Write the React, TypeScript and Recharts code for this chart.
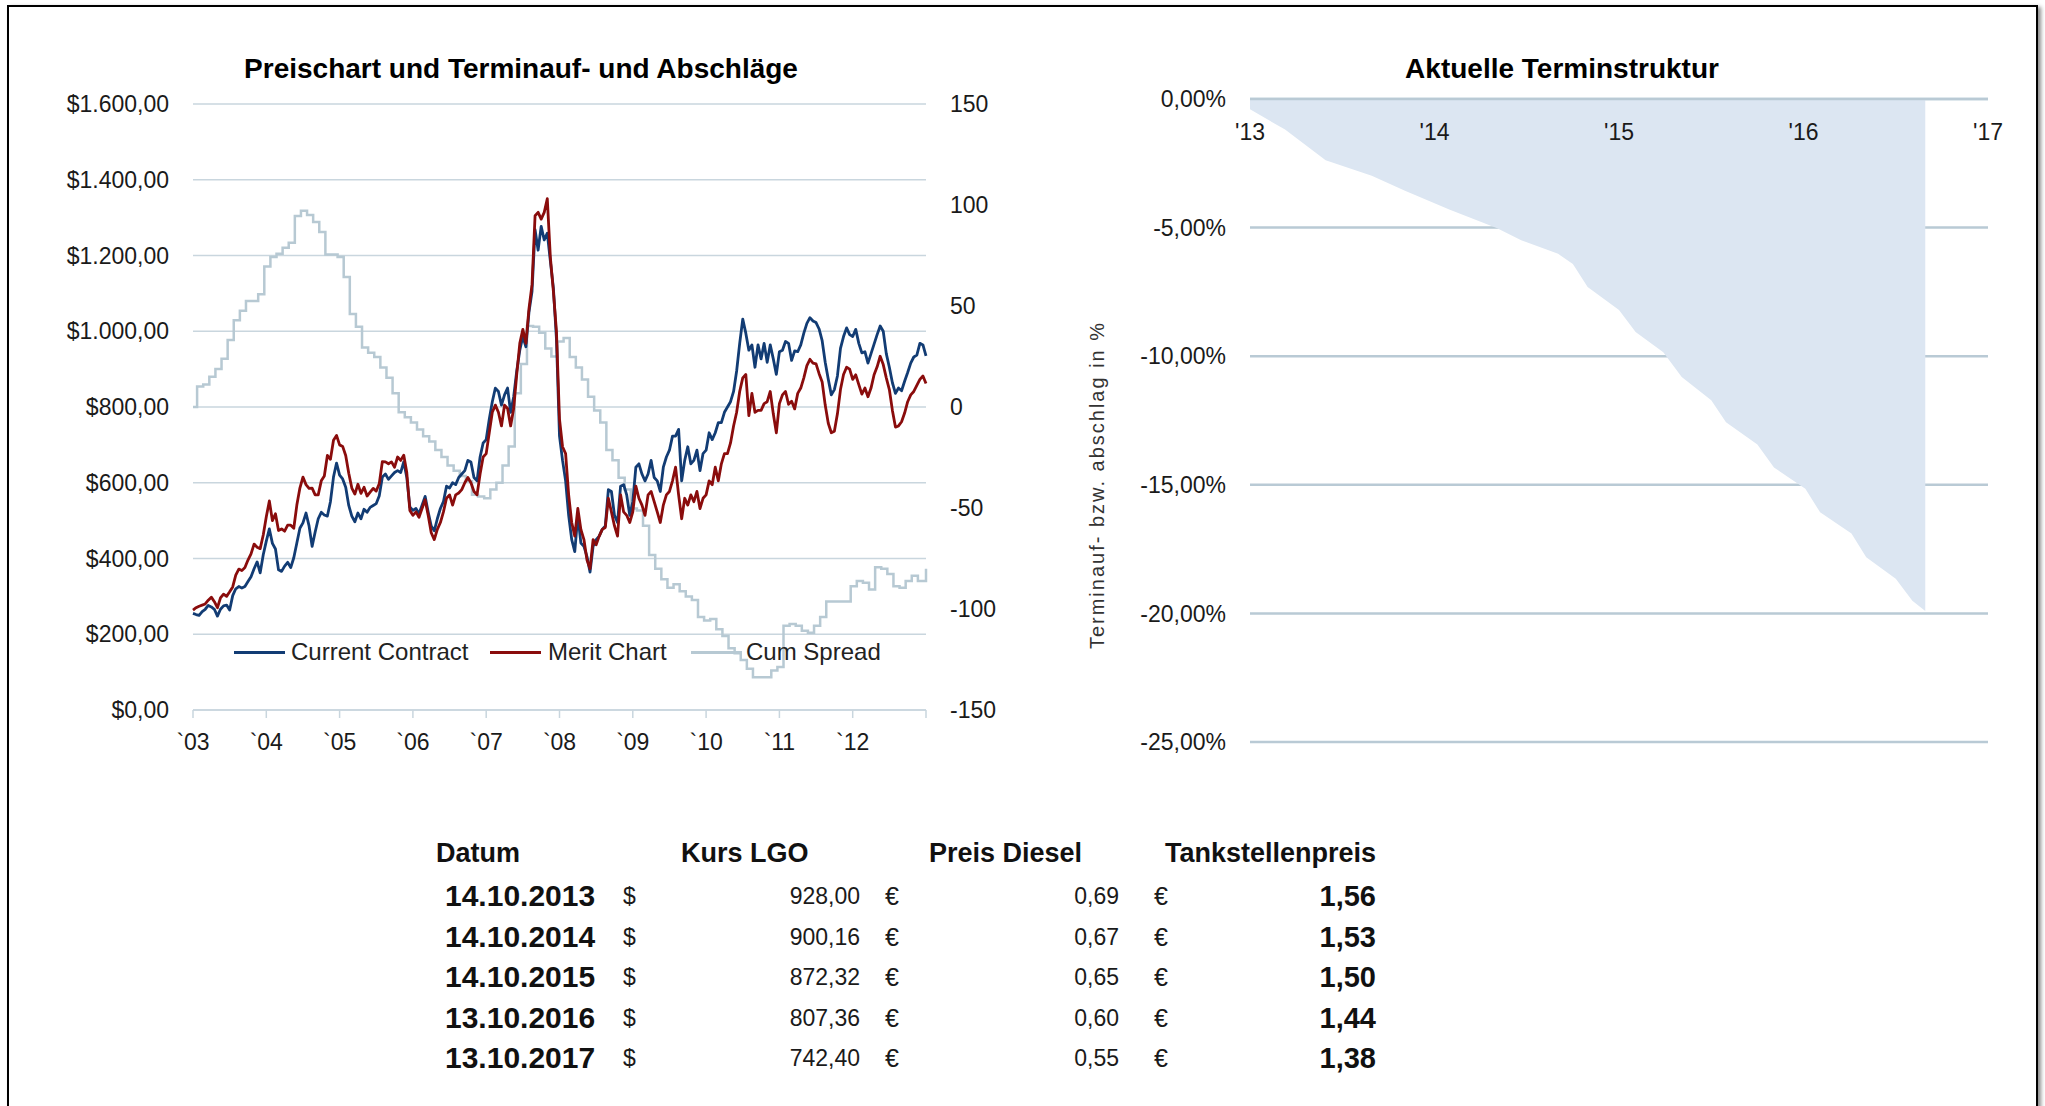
import { LineChart, Line, AreaChart, Area, XAxis, YAxis, CartesianGrid, ReferenceLine } from 'recharts';

// Preischart: half-monthly readings, Jan 2003 .. Jan 2013
const currentContract = [
  255, 252, 250, 260, 266, 276, 272, 266, 248, 266, 275, 277, 264, 302, 320, 326, 322, 326, 339, 352,
  373, 391, 362, 410, 446, 478, 440, 425, 370, 366, 380, 390, 376, 402, 441, 480, 494, 520, 486, 432,
  470, 505, 522, 515, 512, 550, 615, 652, 620, 610, 588, 540, 512, 497, 520, 505, 530, 522, 535, 540,
  545, 566, 615, 623, 609, 618, 627, 632, 627, 655, 614, 536, 527, 532, 518, 541, 564, 523, 486, 473,
  505, 532, 550, 591, 586, 600, 595, 614, 623, 632, 659, 655, 614, 605, 668, 705, 714, 768, 814, 850,
  841, 805, 832, 850, 786, 827, 895, 950, 986, 959, 1050, 1105, 1268, 1214, 1277, 1241, 1259, 1186, 1114, 980,
  723, 659, 605, 514, 450, 418, 514, 441, 432, 405, 364, 432, 450, 459, 477, 486, 582, 577, 514, 495,
  591, 595, 568, 514, 550, 641, 650, 623, 605, 623, 659, 614, 605, 577, 641, 668, 686, 723, 723, 741,
  605, 659, 695, 650, 659, 686, 632, 677, 686, 732, 714, 732, 759, 759, 786, 800, 814, 841, 895, 968,
  1032, 995, 950, 964, 905, 964, 927, 968, 918, 964, 927, 886, 946, 950, 973, 968, 923, 948, 946, 964,
  995, 1021, 1036, 1027, 1023, 1006, 975, 918, 873, 832, 846, 882, 955, 986, 1009, 991, 986, 1005, 968, 943,
  946, 916, 941, 966, 991, 1014, 1000, 941, 905, 864, 836, 850, 843, 868, 891, 916, 932, 937, 968, 964,
  935,
];

const meritChart = [
  264, 270, 274, 277, 280, 290, 298, 286, 270, 296, 306, 300, 312, 325, 356, 372, 368, 376, 396, 412,
  438, 430, 426, 462, 510, 552, 500, 518, 474, 478, 472, 488, 488, 480, 541, 586, 615, 595, 585, 586,
  568, 568, 605, 618, 672, 662, 712, 725, 700, 696, 672, 625, 586, 570, 596, 572, 588, 565, 575, 585,
  578, 598, 656, 655, 650, 655, 641, 668, 659, 673, 627, 527, 514, 523, 509, 532, 555, 514, 468, 450,
  477, 495, 523, 559, 568, 541, 568, 573, 582, 600, 614, 600, 577, 568, 623, 668, 677, 732, 786, 805,
  786, 750, 805, 796, 750, 796, 886, 968, 1005, 968, 1059, 1123, 1305, 1314, 1296, 1314, 1350, 1196, 1105, 1000,
  768, 695, 677, 568, 495, 459, 532, 477, 450, 396, 373, 450, 436, 459, 477, 482, 559, 523, 486, 459,
  568, 523, 514, 495, 523, 591, 559, 541, 514, 568, 577, 550, 523, 495, 541, 568, 577, 605, 641, 568,
  505, 559, 541, 568, 550, 577, 532, 559, 568, 605, 595, 641, 605, 650, 677, 677, 705, 750, 786, 841,
  877, 886, 777, 836, 786, 791, 791, 809, 814, 841, 782, 732, 809, 832, 841, 807, 815, 795, 836, 850,
  877, 909, 926, 916, 914, 888, 866, 805, 757, 732, 736, 782, 846, 886, 905, 900, 873, 885, 859, 834,
  850, 827, 850, 885, 906, 934, 912, 877, 846, 791, 747, 750, 761, 784, 814, 832, 841, 857, 873, 882,
  862,
];

// monthly steps of the cumulated spread (right axis)
const cumSpread = [
  0, 10.2, 11.1, 15.0, 18.8, 23.9, 33.2, 43.0, 47.6, 52.5,
  52.5, 55.8, 69.6, 74.2, 75.9, 78.8, 81.3, 94.6, 97.2, 95.1,
  91.6, 86.6, 75.5, 75.5, 74.2, 64.3, 46.0, 39.7, 29.5, 26.8,
  24.7, 19.6, 14.5, 6.8, -2.6, -5.1, -7.7, -11.1, -14.5, -17.1,
  -21.3, -24.7, -29.0, -31.5, -34.1, -36.7, -43.5, -44.3, -45.2, -40.9,
  -37.5, -29.0, -19.6, 6.8, 21.3, 40.1, 39.7, 36.7, 29.0, 25.0,
  32.4, 34.1, 24.7, 19.6, 13.6, 5.1, -1.7, -7.7, -21.3, -26.4,
  -35.0, -40.9, -50.3, -51.2, -58.8, -73.3, -80.1, -85.3, -89.5, -87.8,
  -91.2, -93.8, -95.5, -104.0, -105.7, -104.9, -110.0, -113.4, -119.4, -121.9,
  -125.3, -129.6, -133.8, -133.8, -133.8, -130.4, -128.7, -108.3, -107.4, -108.3,
  -110.8, -111.7, -108.3, -104.0, -96.3, -96.3, -96.3, -96.3, -88.7, -86.1,
  -87.0, -90.4, -79.3, -80.1, -82.7, -88.7, -89.5, -86.1, -83.5, -86.1,
  -86.1,
];
const cumSpreadLast = -80.1;

const yearTicks = [2003, 2004, 2005, 2006, 2007, 2008, 2009, 2010, 2011, 2012, 2013];
const priceTicks = [0, 200, 400, 600, 800, 1000, 1200, 1400, 1600];
const spreadTicks = [-150, -100, -50, 0, 50, 100, 150];

// Terminstruktur
const termDates = [
  2013.0, 2013.19, 2013.41, 2013.66, 2013.84, 2014.08, 2014.34, 2014.47, 2014.67, 2014.75,
  2014.83, 2015.0, 2015.09, 2015.24, 2015.34, 2015.5, 2015.58, 2015.75, 2015.84, 2016.01,
  2016.09, 2016.26, 2016.34, 2016.5, 2016.59, 2016.66,
];
const termValues = [
  -0.4, -1.19, -2.38, -2.98, -3.57, -4.3, -5.03, -5.49, -6.02, -6.42,
  -7.31, -8.2, -9.06, -9.85, -10.81, -11.71, -12.57, -13.43, -14.33, -15.15,
  -16.07, -16.89, -17.82, -18.65, -19.51, -19.91,
];
const termYearTicks = [2013, 2014, 2015, 2016, 2017];
const termPctTicks = [-25, -20, -15, -10, -5, 0];

// Tabelle
const tableDates = ['14.10.2013', '14.10.2014', '14.10.2015', '13.10.2016', '13.10.2017'];
const kursLgo = [928.0, 900.16, 872.32, 807.36, 742.4];
const preisDiesel = [0.69, 0.67, 0.65, 0.6, 0.55];
const tankstellenpreis = [1.56, 1.53, 1.5, 1.44, 1.38];

const FONT = "'Liberation Sans', Arial, Helvetica, sans-serif";
const TEXT = '#1a1a1a';
const BLUE = '#123c74';
const RED = '#8a0c0c';
const CUM = '#b7c9d3';
const GRID_L = '#c9d6de';
const GRID_R = '#b9cad5';
const AREA = '#dce6f2';

const de = (v: number) => v.toFixed(2).replace('.', ',');
const usd = (v: number) => `$${v.toLocaleString('de-DE', { minimumFractionDigits: 2, maximumFractionDigits: 2 })}`;

function PriceChart() {
  const priceData = currentContract.map((v, i) => ({ t: 2003 + i / 24, current: v, merit: meritChart[i] }));
  const cumData = [
    { t: 2003, cum: cumSpread[0] },
    ...cumSpread.slice(1).map((v, k) => ({ t: 2003.056 + k / 12, cum: v })),
    { t: 2013, cum: cumSpreadLast },
  ];
  const tickStyle = { fill: TEXT, fontSize: 23, fontFamily: FONT };

  return (
    <LineChart width={1000} height={780} margin={{ top: 104, right: 0, bottom: 0, left: 0 }}>
      <CartesianGrid yAxisId="price" vertical={false} stroke={GRID_L} strokeWidth={1.5} />
      <XAxis
        type="number"
        dataKey="t"
        domain={[2003, 2013]}
        ticks={yearTicks}
        interval={0}
        height={70}
        tickSize={8}
        tickMargin={16}
        stroke={GRID_L}
        strokeWidth={1.5}
        tick={tickStyle}
        tickFormatter={(y: number) => (y === 2013 ? '' : '`' + String(y).slice(2))}
      />
      <YAxis
        yAxisId="price"
        domain={[0, 1600]}
        ticks={priceTicks}
        interval={0}
        width={193}
        axisLine={false}
        tickLine={false}
        tickSize={0}
        tickMargin={24}
        tick={tickStyle}
        tickFormatter={usd}
      />
      <YAxis
        yAxisId="spread"
        orientation="right"
        domain={[-150, 150]}
        ticks={spreadTicks}
        interval={0}
        width={74}
        axisLine={false}
        tickLine={false}
        tickSize={0}
        tickMargin={24}
        tick={tickStyle}
      />
      <Line yAxisId="spread" data={cumData} dataKey="cum" type="stepAfter" stroke={CUM} strokeWidth={2.5} dot={false} isAnimationActive={false} />
      <Line yAxisId="price" data={priceData} dataKey="current" type="linear" stroke={BLUE} strokeWidth={2.8} strokeLinejoin="round" dot={false} isAnimationActive={false} />
      <Line yAxisId="price" data={priceData} dataKey="merit" type="linear" stroke={RED} strokeWidth={2.8} strokeLinejoin="round" dot={false} isAnimationActive={false} />
    </LineChart>
  );
}

const TermTick = (props: any) => {
  const { x, payload } = props;
  return (
    <text x={x} y={132} textAnchor="middle" dominantBaseline="central" fill={TEXT} fontSize={23} fontFamily={FONT}>
      {"'" + String(payload.value).slice(2)}
    </text>
  );
};

function TermChart() {
  const termData = termDates.map((t, i) => ({ t, v: termValues[i] }));
  return (
    <AreaChart width={1000} height={770} data={termData} margin={{ top: 99, right: 52, bottom: 0, left: 0 }}>
      <CartesianGrid vertical={false} stroke={GRID_R} strokeWidth={2.5} />
      <XAxis type="number" dataKey="t" domain={[2013, 2017]} ticks={termYearTicks} interval={0} height={28} axisLine={false} tickLine={false} tick={<TermTick />} />
      <YAxis
        domain={[-25, 0]}
        ticks={termPctTicks}
        interval={0}
        width={210}
        axisLine={false}
        tickLine={false}
        tickSize={0}
        tickMargin={24}
        tick={{ fill: TEXT, fontSize: 23, fontFamily: FONT }}
        tickFormatter={(v: number) => de(v === 0 ? 0 : v) + '%'}
      />
      <Area dataKey="v" type="linear" fill={AREA} fillOpacity={1} stroke="none" baseValue={0} isAnimationActive={false} />
      <ReferenceLine y={0} stroke={GRID_R} strokeWidth={2.5} />
    </AreaChart>
  );
}

const abs = (left: number, centerY: number, size: number, extra: any = {}) => ({
  position: 'absolute' as const,
  left,
  top: centerY - 0.49 * size,
  fontSize: size,
  lineHeight: 1,
  whiteSpace: 'nowrap' as const,
  ...extra,
});

const absRight = (right: number, centerY: number, size: number, extra: any = {}) => ({
  position: 'absolute' as const,
  left: right - 300,
  width: 300,
  textAlign: 'right' as const,
  top: centerY - 0.49 * size,
  fontSize: size,
  lineHeight: 1,
  whiteSpace: 'nowrap' as const,
  ...extra,
});

function Legend() {
  const items = [
    { name: 'Current Contract', color: BLUE, line: 234, text: 291 },
    { name: 'Merit Chart', color: RED, line: 490, text: 548 },
    { name: 'Cum Spread', color: CUM, line: 691, text: 746 },
  ];
  return (
    <>
      {items.map((it) => (
        <div key={it.name}>
          <div style={{ position: 'absolute', left: it.line, top: 650.5, width: 51, height: 3, background: it.color }} />
          <div style={abs(it.text, 652, 24, { color: '#222' })}>{it.name}</div>
        </div>
      ))}
    </>
  );
}

function Table() {
  const rowY = [896, 937, 977, 1018, 1058];
  const head = { fontWeight: 'bold', color: '#111' };
  return (
    <>
      <div style={abs(436, 853, 27, head)}>Datum</div>
      <div style={abs(681, 853, 27, head)}>Kurs LGO</div>
      <div style={abs(929, 853, 27, head)}>Preis Diesel</div>
      <div style={absRight(1376, 853, 27, head)}>Tankstellenpreis</div>
      {tableDates.map((d, i) => (
        <div key={d}>
          <div style={abs(445, rowY[i], 30, head)}>{d}</div>
          <div style={abs(623, rowY[i], 23, { color: TEXT })}>$</div>
          <div style={absRight(860, rowY[i], 23, { color: TEXT })}>{de(kursLgo[i])}</div>
          <div style={abs(885, rowY[i], 25, { color: TEXT })}>€</div>
          <div style={absRight(1119, rowY[i], 23, { color: TEXT })}>{de(preisDiesel[i])}</div>
          <div style={abs(1154, rowY[i], 25, { color: TEXT })}>€</div>
          <div style={absRight(1376, rowY[i], 29, head)}>{de(tankstellenpreis[i])}</div>
        </div>
      ))}
    </>
  );
}

export default function App() {
  return (
    <div style={{ position: 'absolute', left: 0, top: 0, width: 2045, height: 1106, background: '#fff', overflow: 'hidden', fontFamily: FONT }}>
      <div
        style={{
          position: 'absolute',
          left: 7,
          top: 5,
          width: 2027,
          height: 1130,
          border: '2px solid #000',
          borderBottom: 'none',
          boxShadow: '3px 2px 4px rgba(0,0,0,0.45)',
        }}
      />
      <div style={{ position: 'absolute', left: 0, top: 0 }}>
        <PriceChart />
      </div>
      <div style={{ position: 'absolute', left: 1040, top: 0 }}>
        <TermChart />
      </div>
      <div style={{ position: 'absolute', left: 121, width: 800, top: 69 - 0.49 * 28, fontSize: 28, lineHeight: 1, textAlign: 'center', fontWeight: 'bold', color: '#000', whiteSpace: 'nowrap' }}>
        Preischart und Terminauf- und Abschläge
      </div>
      <div style={{ position: 'absolute', left: 1162, width: 800, top: 69 - 0.49 * 28, fontSize: 28, lineHeight: 1, textAlign: 'center', fontWeight: 'bold', color: '#000', whiteSpace: 'nowrap' }}>
        Aktuelle Terminstruktur
      </div>
      <div
        style={{
          position: 'absolute',
          left: 1097 - 200,
          top: 485 - 12,
          width: 400,
          height: 24,
          lineHeight: '24px',
          textAlign: 'center',
          fontSize: 20,
          letterSpacing: 2,
          color: '#333',
          transform: 'rotate(-90deg)',
          transformOrigin: '50% 50%',
          whiteSpace: 'nowrap',
        }}
      >
        Terminauf- bzw. abschlag in %
      </div>
      <Legend />
      <Table />
    </div>
  );
}
